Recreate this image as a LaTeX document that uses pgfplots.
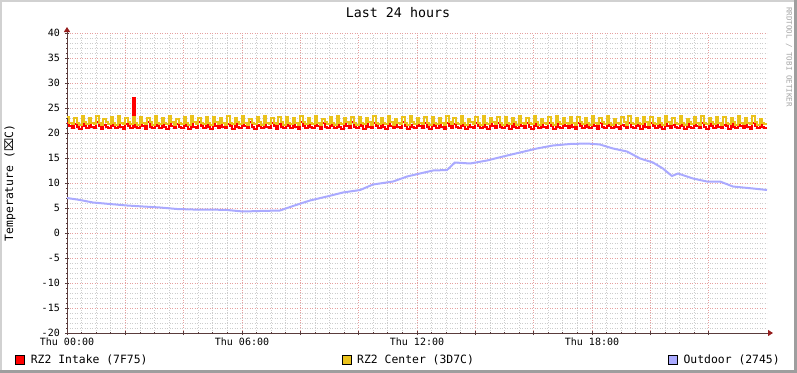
\documentclass[border=0pt]{standalone}
\usepackage{fontspec}
\setmainfont{DejaVu Sans Mono}
\newfontfamily\symfont{DejaVu Sans}
\usepackage{pgfplots}
\pgfplotsset{compat=1.18}
\usepackage{pgfplotstable}
\usetikzlibrary{arrows.meta}

\definecolor{intake}{RGB}{255,0,0}
\definecolor{centerc}{RGB}{234,194,28}
\definecolor{outdoor}{RGB}{170,170,255}
\definecolor{mgrid}{RGB}{230,160,160}
\definecolor{mingrid}{RGB}{205,205,205}
\definecolor{axiscol}{RGB}{90,60,60}
\definecolor{arrowcol}{RGB}{150,30,30}

\pgfplotstableread{
t intake center
0.00 22.0 23.3
0.08 21.4 22.1
0.16 21.0 21.8
0.25 21.8 23.0
0.33 21.3 22.0
0.41 20.9 21.7
0.50 22.1 23.4
0.58 21.5 22.2
0.66 21.1 21.9
0.75 21.9 23.1
0.83 21.2 22.1
0.91 21.0 21.8
1.00 22.2 23.5
1.08 21.4 22.0
1.16 20.9 21.6
1.25 21.7 22.9
1.33 21.3 22.2
1.41 21.1 21.8
1.50 22.0 23.2
1.58 21.5 22.1
1.66 21.0 21.7
1.75 22.0 23.4
1.83 21.2 22.0
1.91 20.9 21.9
2.00 21.8 23.0
2.08 21.4 22.2
2.16 21.1 21.8
2.25 27.0 23.3
2.33 21.3 22.1
2.41 21.0 21.6
2.50 21.9 23.3
2.58 21.5 22.0
2.66 20.9 21.8
2.75 22.2 23.0
2.83 21.2 22.2
2.91 21.1 21.7
3.00 21.7 23.4
3.08 21.4 22.1
3.16 21.0 21.9
3.25 22.0 23.1
3.33 21.3 22.0
3.41 20.9 21.8
3.50 22.0 23.5
3.58 21.5 22.2
3.66 21.1 21.6
3.75 21.8 22.9
3.83 21.2 22.1
3.91 21.0 21.8
4.00 22.1 23.2
4.08 21.4 22.0
4.16 20.9 21.7
4.25 21.9 23.4
4.33 21.3 22.2
4.41 21.1 21.9
4.50 22.2 23.0
4.58 21.5 22.1
4.66 21.0 21.8
4.75 21.7 23.3
4.83 21.2 22.0
4.91 20.9 21.6
5.00 22.0 23.3
5.08 21.4 22.2
5.16 21.1 21.8
5.25 22.0 23.0
5.33 21.3 22.1
5.41 21.0 21.7
5.50 21.8 23.4
5.58 21.5 22.0
5.66 20.9 21.9
5.75 22.1 23.1
5.83 21.2 22.2
5.91 21.1 21.8
6.00 21.9 23.5
6.08 21.4 22.1
6.16 21.0 21.6
6.25 22.2 22.9
6.33 21.3 22.0
6.41 20.9 21.8
6.50 21.7 23.2
6.58 21.5 22.2
6.66 21.1 21.7
6.75 22.0 23.4
6.83 21.2 22.1
6.91 21.0 21.9
7.00 22.0 23.0
7.08 21.4 22.0
7.16 20.9 21.8
7.25 21.8 23.3
7.33 21.3 22.2
7.41 21.1 21.6
7.50 22.1 23.3
7.58 21.5 22.1
7.66 21.0 21.8
7.75 21.9 23.0
7.83 21.2 22.0
7.91 20.9 21.7
8.00 22.2 23.4
8.08 21.4 22.2
8.16 21.1 21.9
8.25 21.7 23.1
8.33 21.3 22.1
8.41 21.0 21.8
8.50 22.0 23.5
8.58 21.5 22.0
8.66 20.9 21.6
8.75 22.0 22.9
8.83 21.2 22.2
8.91 21.1 21.8
9.00 21.8 23.2
9.08 21.4 22.1
9.16 21.0 21.7
9.25 22.1 23.4
9.33 21.3 22.0
9.41 20.9 21.9
9.50 21.9 23.0
9.58 21.5 22.2
9.66 21.1 21.8
9.75 22.2 23.3
9.83 21.2 22.1
9.91 21.0 21.6
10.00 21.7 23.3
10.08 21.4 22.0
10.16 20.9 21.8
10.25 22.0 23.0
10.33 21.3 22.2
10.41 21.1 21.7
10.50 22.0 23.4
10.58 21.5 22.1
10.66 21.0 21.9
10.75 21.8 23.1
10.83 21.2 22.0
10.91 20.9 21.8
11.00 22.1 23.5
11.08 21.4 22.2
11.16 21.1 21.6
11.25 21.9 22.9
11.33 21.3 22.1
11.41 21.0 21.8
11.50 22.2 23.2
11.58 21.5 22.0
11.66 20.9 21.7
11.75 21.7 23.4
11.83 21.2 22.2
11.91 21.1 21.9
12.00 22.0 23.0
12.08 21.4 22.1
12.16 21.0 21.8
12.25 22.0 23.3
12.33 21.3 22.0
12.41 20.9 21.6
12.50 22.0 23.3
12.58 21.4 22.1
12.66 21.0 21.8
12.75 21.8 23.0
12.83 21.3 22.0
12.91 20.9 21.7
13.00 22.1 23.4
13.08 21.5 22.2
13.16 21.1 21.9
13.25 21.9 23.1
13.33 21.2 22.1
13.41 21.0 21.8
13.50 22.2 23.5
13.58 21.4 22.0
13.66 20.9 21.6
13.75 21.7 22.9
13.83 21.3 22.2
13.91 21.1 21.8
14.00 22.0 23.2
14.08 21.5 22.1
14.16 21.0 21.7
14.25 22.0 23.4
14.33 21.2 22.0
14.41 20.9 21.9
14.50 21.8 23.0
14.58 21.4 22.2
14.66 21.1 21.8
14.75 22.1 23.3
14.83 21.3 22.1
14.91 21.0 21.6
15.00 21.9 23.3
15.08 21.5 22.0
15.16 20.9 21.8
15.25 22.2 23.0
15.33 21.2 22.2
15.41 21.1 21.7
15.50 21.7 23.4
15.58 21.4 22.1
15.66 21.0 21.9
15.75 22.0 23.1
15.83 21.3 22.0
15.91 20.9 21.8
16.00 22.0 23.5
16.08 21.5 22.2
16.16 21.1 21.6
16.25 21.8 22.9
16.33 21.2 22.1
16.41 21.0 21.8
16.50 22.1 23.2
16.58 21.4 22.0
16.66 20.9 21.7
16.75 21.9 23.4
16.83 21.3 22.2
16.91 21.1 21.9
17.00 22.2 23.0
17.08 21.5 22.1
17.16 21.0 21.8
17.25 21.7 23.3
17.33 21.2 22.0
17.41 20.9 21.6
17.50 22.0 23.3
17.58 21.4 22.2
17.66 21.1 21.8
17.75 22.0 23.0
17.83 21.3 22.1
17.91 21.0 21.7
18.00 21.8 23.4
18.08 21.5 22.0
18.16 20.9 21.9
18.25 22.1 23.1
18.33 21.2 22.2
18.41 21.1 21.8
18.50 21.9 23.5
18.58 21.4 22.1
18.66 21.0 21.6
18.75 22.2 22.9
18.83 21.3 22.0
18.91 20.9 21.8
19.00 21.7 23.2
19.08 21.5 22.2
19.16 21.1 21.7
19.25 22.0 23.4
19.33 21.2 22.1
19.41 21.0 21.9
19.50 22.0 23.0
19.58 21.4 22.0
19.66 20.9 21.8
19.75 21.8 23.3
19.83 21.3 22.2
19.91 21.1 21.6
20.00 22.1 23.3
20.08 21.5 22.1
20.16 21.0 21.8
20.25 21.9 23.0
20.33 21.2 22.0
20.41 20.9 21.7
20.50 22.2 23.4
20.58 21.4 22.2
20.66 21.1 21.9
20.75 21.7 23.1
20.83 21.3 22.1
20.91 21.0 21.8
21.00 22.0 23.5
21.08 21.5 22.0
21.16 20.9 21.6
21.25 22.0 22.9
21.33 21.2 22.2
21.41 21.1 21.8
21.50 21.8 23.2
21.58 21.4 22.1
21.66 21.0 21.7
21.75 22.1 23.4
21.83 21.3 22.0
21.91 20.9 21.9
22.00 21.9 23.0
22.08 21.5 22.2
22.16 21.1 21.8
22.25 22.2 23.3
22.33 21.2 22.1
22.41 21.0 21.6
22.50 21.7 23.3
22.58 21.4 22.0
22.66 20.9 21.8
22.75 22.0 23.0
22.83 21.3 22.2
22.91 21.1 21.7
23.00 22.0 23.4
23.08 21.5 22.1
23.16 21.0 21.9
23.25 21.8 23.1
23.33 21.2 22.0
23.41 20.9 21.8
23.50 22.1 23.5
23.58 21.4 22.2
23.66 21.1 21.6
23.75 21.9 22.9
23.83 21.3 22.1
23.91 21.0 21.8
24.00 21.0 21.8
}\rztable

\pgfplotstableread{
t v
0.00 7.0
0.45 6.6
0.89 6.1
1.47 5.8
2.06 5.5
2.61 5.3
3.19 5.1
3.77 4.8
4.32 4.7
4.90 4.7
5.49 4.6
6.03 4.3
6.62 4.4
7.30 4.5
7.75 5.4
8.33 6.5
8.91 7.3
9.46 8.1
10.05 8.6
10.49 9.7
11.18 10.3
11.66 11.3
12.10 11.9
12.55 12.5
13.03 12.6
13.30 14.1
13.82 13.9
14.40 14.5
14.95 15.3
15.53 16.1
16.11 16.9
16.66 17.5
17.25 17.8
17.83 17.9
18.27 17.7
18.72 16.9
19.20 16.3
19.65 14.9
20.09 14.1
20.43 12.9
20.74 11.4
20.95 11.9
21.46 10.9
21.94 10.3
22.39 10.3
22.83 9.3
23.52 8.9
24.00 8.6
}\outtable

\begin{document}
\begin{tikzpicture}
\fill[white] (0bp,0bp) rectangle (797bp,373bp);
\fill[black!18] (0bp,371bp) rectangle (797bp,373bp);
\fill[black!18] (0bp,0bp) rectangle (2bp,373bp);
\fill[black!38] (794bp,0bp) rectangle (797bp,373bp);
\fill[black!38] (0bp,0bp) rectangle (797bp,3bp);
\useasboundingbox (0bp,0bp) rectangle (797bp,373bp);
\begin{axis}[
  at={(67bp,40bp)}, anchor=south west,
  scale only axis, width=700bp, height=300bp,
  xmin=0, xmax=24, ymin=-20, ymax=40,
  axis lines=left,
  x axis line style={draw=axiscol, line width=1bp, -{Triangle[length=5bp,width=6bp,color=arrowcol,fill=arrowcol]}, shorten >=-6bp},
  y axis line style={draw=axiscol, line width=1bp, -{Triangle[length=5bp,width=6bp,color=arrowcol,fill=arrowcol]}, shorten >=-6bp},
  xtick={0,2,...,22},
  xticklabels={Thu 00:00,,,Thu 06:00,,,Thu 12:00,,,Thu 18:00,,},
  minor x tick num=3,
  ytick={-20,-15,...,40},
  yticklabels={-20,-15,-10,-5,0,5,10,15,20,25,30,35,40},
  minor y tick num=4,
  grid=both,
  major grid style={draw=mgrid, dash pattern=on 1bp off 1.5bp, line width=0.8bp},
  minor grid style={draw=mingrid, dash pattern=on 1bp off 1.5bp, line width=0.8bp},
  tick style={draw=axiscol, line width=0.8bp},
  major tick length=4bp, minor tick length=2bp, tick align=center,
  xticklabel style={font=\fontsize{10bp}{12bp}\selectfont, anchor=base, yshift=-10bp},
  yticklabel style={font=\fontsize{10bp}{12bp}\selectfont, anchor=east, inner sep=0pt, xshift=-5bp},
  ylabel={Temperature ({\symfont ⌧}C)},
  ylabel style={font=\fontsize{11.4bp}{13bp}\selectfont, at={(axis description cs:0,0.5)}, anchor=center, yshift=57bp},
  title={Last 24 hours},
  title style={font=\fontsize{13.3bp}{15bp}\selectfont, at={(axis description cs:0.5,1)}, anchor=base, xshift=-19bp, yshift=10bp},
  legend columns=3,
  legend style={draw=none, fill=none, at={(axis description cs:0,0)}, anchor=north west, xshift=-55bp, yshift=-18bp,
    font=\fontsize{11.4bp}{13bp}\selectfont,
    /tikz/every odd column/.append style={column sep=4bp},
    /tikz/every even column/.append style={column sep=192bp}},
  clip=true,
]
\addplot[const plot, draw=intake, line width=2bp,
  legend image code/.code={\draw[black, line width=0.7bp, fill=intake] (0bp,-4.5bp) rectangle (9bp,4.5bp);}]
  table[x=t, y=intake] {\rztable};
\addlegendentry{RZ2 Intake (7F75)}
\addplot[const plot, draw=centerc, line width=2bp,
  legend image code/.code={\draw[black, line width=0.7bp, fill=centerc] (0bp,-4.5bp) rectangle (9bp,4.5bp);}]
  table[x=t, y=center] {\rztable};
\addlegendentry{RZ2 Center (3D7C)}
\addplot[sharp plot, draw=outdoor, line width=2bp,
  legend image code/.code={\draw[black, line width=0.7bp, fill=outdoor] (0bp,-4.5bp) rectangle (9bp,4.5bp);}]
  table[x=t, y=v] {\outtable};
\addlegendentry{Outdoor (2745)}
\end{axis}
\node[rotate=-90, text=black!35, font=\fontsize{7.5bp}{9bp}\selectfont, inner sep=0pt] at (789bp,316bp) {RRDTOOL / TOBI OETIKER};
\end{tikzpicture}
\end{document}
